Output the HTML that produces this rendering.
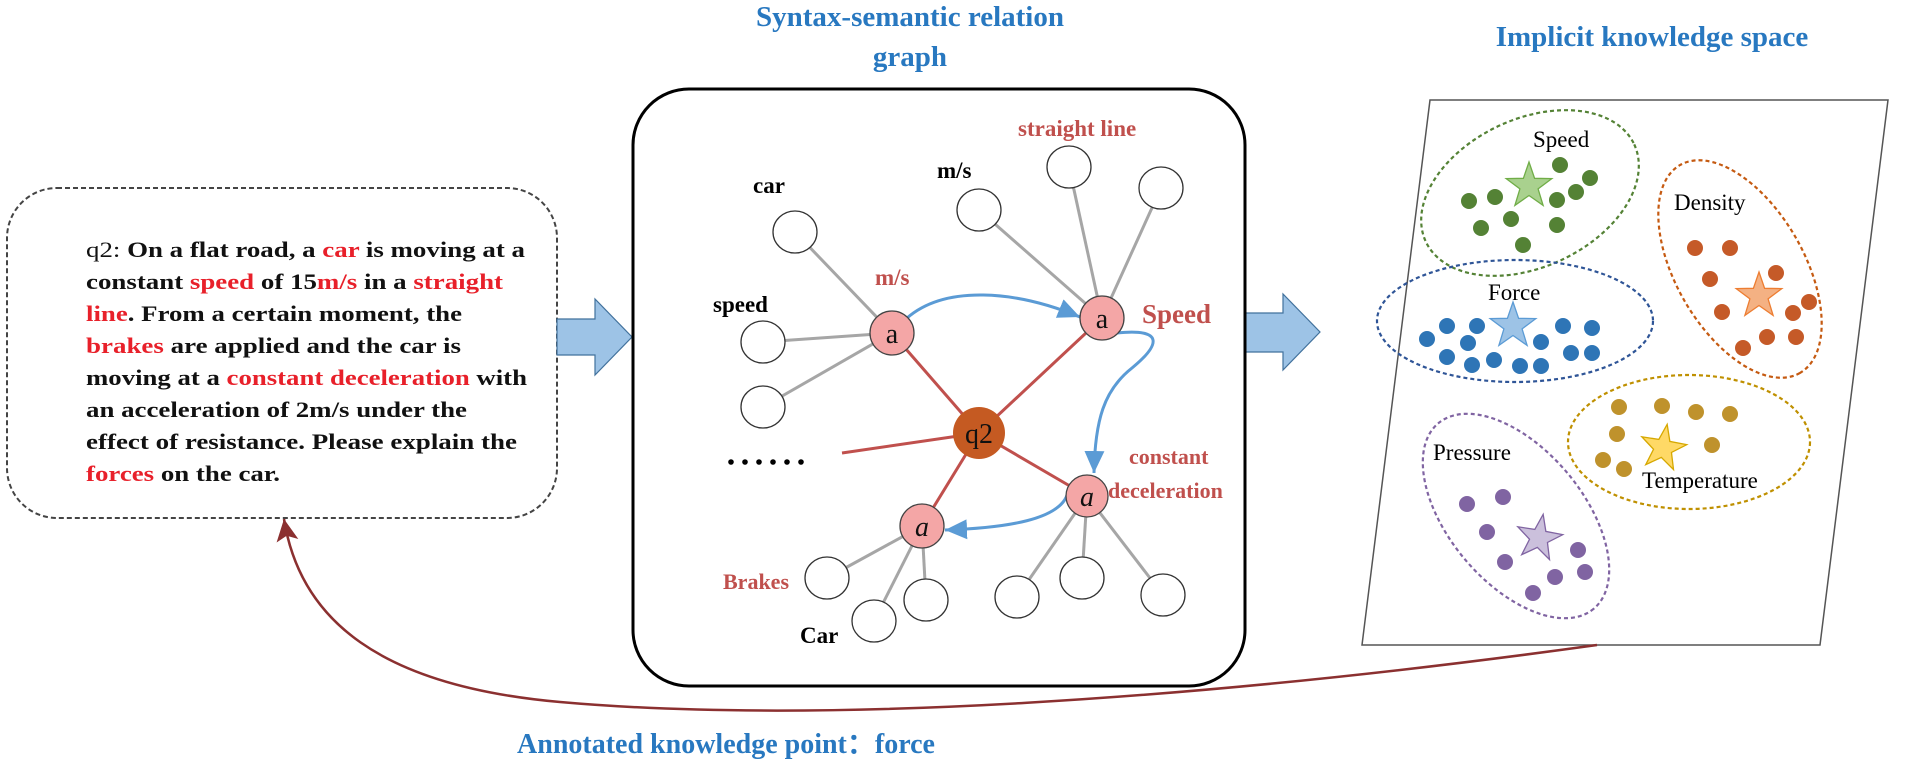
<!DOCTYPE html>
<html><head><meta charset="utf-8"><style>
html,body{margin:0;padding:0;background:#fff;}
svg{display:block;}
text{font-family:"Liberation Serif",serif;}
</style></head><body>
<svg width="1905" height="765" viewBox="0 0 1905 765" xmlns="http://www.w3.org/2000/svg">
<defs>
<marker id="bh" markerUnits="userSpaceOnUse" markerWidth="22" markerHeight="20" refX="22" refY="10" orient="auto"><path d="M0,0 L22,10 L0,20 z" fill="#5b9bd5"/></marker>
<marker id="rh" markerUnits="userSpaceOnUse" markerWidth="22" markerHeight="22" refX="22" refY="11" orient="auto"><path d="M0,0 L22,11 L0,22 L5,11 z" fill="#8b3030"/></marker>
</defs>

<!-- Titles -->
<g fill="#2878c0" font-weight="bold" font-size="29" text-anchor="middle">
<text x="910" y="26">Syntax-semantic relation</text>
<text x="910" y="66">graph</text>
<text x="1652" y="46">Implicit knowledge space</text>
<text x="726" y="753" font-size="28">Annotated knowledge point：force</text>
</g>

<!-- Left text box -->
<rect x="7" y="188" width="550" height="330" rx="50" fill="#fff" stroke="#444" stroke-width="2" stroke-dasharray="5,3"/>
<g font-size="22" font-weight="bold" fill="#111">
<text x="86" y="257" textLength="439" lengthAdjust="spacingAndGlyphs"><tspan font-weight="normal">q2: </tspan>On a flat road, a <tspan fill="#e8202a">car</tspan> is moving at a</text>
<text x="86" y="289" textLength="417" lengthAdjust="spacingAndGlyphs">constant <tspan fill="#e8202a">speed</tspan> of 15<tspan fill="#e8202a">m/s</tspan> in a <tspan fill="#e8202a">straight</tspan></text>
<text x="86" y="321" textLength="376" lengthAdjust="spacingAndGlyphs"><tspan fill="#e8202a">line</tspan>. From a certain moment, the</text>
<text x="86" y="353" textLength="375" lengthAdjust="spacingAndGlyphs"><tspan fill="#e8202a">brakes</tspan> are applied and the car is</text>
<text x="86" y="385" textLength="441" lengthAdjust="spacingAndGlyphs">moving at a <tspan fill="#e8202a">constant deceleration</tspan> with</text>
<text x="86" y="417" textLength="381" lengthAdjust="spacingAndGlyphs">an acceleration of 2m/s under the</text>
<text x="86" y="449" textLength="431" lengthAdjust="spacingAndGlyphs">effect of resistance. Please explain the</text>
<text x="86" y="481" textLength="194" lengthAdjust="spacingAndGlyphs"><tspan fill="#e8202a">forces</tspan> on the car.</text>
</g>

<!-- Block arrows -->
<polygon points="557,319 595,319 595,299 632,337 595,375 595,355 557,355" fill="#9dc3e6" stroke="#41719c" stroke-width="1.2"/>
<polygon points="1245,313 1283,313 1283,294 1320,332 1283,370 1283,352 1245,352" fill="#9dc3e6" stroke="#41719c" stroke-width="1.2"/>

<!-- Middle box -->
<rect x="633" y="89" width="612" height="597" rx="56" fill="#fff" stroke="#000" stroke-width="3"/>

<!-- grey edges -->
<g stroke="#a6a6a6" stroke-width="3">
<line x1="892" y1="333" x2="795" y2="232"/>
<line x1="892" y1="333" x2="763" y2="342"/>
<line x1="892" y1="333" x2="763" y2="407"/>
<line x1="1102" y1="318" x2="979" y2="210"/>
<line x1="1102" y1="318" x2="1069" y2="167"/>
<line x1="1102" y1="318" x2="1161" y2="188"/>
<line x1="922" y1="526" x2="827" y2="578"/>
<line x1="922" y1="526" x2="874" y2="621"/>
<line x1="922" y1="526" x2="926" y2="600"/>
<line x1="1087" y1="496" x2="1017" y2="597"/>
<line x1="1087" y1="496" x2="1082" y2="578"/>
<line x1="1087" y1="496" x2="1163" y2="595"/>
</g>
<!-- red edges -->
<g stroke="#c0504d" stroke-width="3">
<line x1="979" y1="433" x2="892" y2="333"/>
<line x1="979" y1="433" x2="1102" y2="318"/>
<line x1="979" y1="433" x2="922" y2="526"/>
<line x1="979" y1="433" x2="1087" y2="496"/>
<line x1="979" y1="433" x2="842" y2="453"/>
</g>
<!-- white nodes -->
<g fill="#fff" stroke="#333" stroke-width="1.3">
<ellipse cx="795" cy="232" rx="22" ry="21"/>
<ellipse cx="763" cy="342" rx="22" ry="21"/>
<ellipse cx="763" cy="407" rx="22" ry="21"/>
<ellipse cx="979" cy="210" rx="22" ry="21"/>
<ellipse cx="1069" cy="167" rx="22" ry="21"/>
<ellipse cx="1161" cy="188" rx="22" ry="21"/>
<ellipse cx="827" cy="578" rx="22" ry="21"/>
<ellipse cx="926" cy="600" rx="22" ry="21"/>
<ellipse cx="874" cy="621" rx="22" ry="21"/>
<ellipse cx="1017" cy="597" rx="22" ry="21"/>
<ellipse cx="1082" cy="578" rx="22" ry="21"/>
<ellipse cx="1163" cy="595" rx="22" ry="21"/>
</g>
<!-- dots -->
<g fill="#000"><circle cx="731" cy="462" r="2.8"/><circle cx="745" cy="462" r="2.8"/><circle cx="759" cy="462" r="2.8"/><circle cx="773" cy="462" r="2.8"/><circle cx="787" cy="462" r="2.8"/><circle cx="801" cy="462" r="2.8"/></g>
<!-- blue arrows -->
<g fill="none" stroke="#5b9bd5" stroke-width="3">
<path d="M907,318 C945,285 1015,290 1080,317" marker-end="url(#bh)"/>
<path d="M1117,333 C1165,328 1160,345 1132,368 C1104,390 1095,420 1094,473" marker-end="url(#bh)"/>
<path d="M1068,492 C1062,520 1005,528 945,530" marker-end="url(#bh)"/>
</g>
<!-- pink nodes -->
<g fill="#f4a6a6" stroke="#444" stroke-width="1.3">
<circle cx="892" cy="333" r="22"/>
<circle cx="1102" cy="318" r="22"/>
<circle cx="1087" cy="496" r="21"/>
<circle cx="922" cy="526" r="22"/>
</g>
<circle cx="979" cy="433" r="26" fill="#c55a22"/>
<g font-size="28" fill="#111" text-anchor="middle">
<text x="892" y="343">a</text>
<text x="1102" y="328">a</text>
<text x="1087" y="506" font-style="italic">a</text>
<text x="922" y="536" font-style="italic">a</text>
<text x="979" y="443">q2</text>
</g>
<!-- graph labels -->
<g font-weight="bold" font-size="23" fill="#000">
<text x="753" y="193">car</text>
<text x="937" y="178">m/s</text>
<text x="713" y="312">speed</text>
<text x="800" y="643">Car</text>
</g>
<g font-weight="bold" font-size="23" fill="#c0504d">
<text x="1018" y="136">straight line</text>
<text x="875" y="285">m/s</text>
<text x="1142" y="323" font-size="27">Speed</text>
<text x="1129" y="464" font-size="22">constant</text>
<text x="1108" y="498" font-size="22">deceleration</text>
<text x="723" y="589" font-size="22">Brakes</text>
</g>

<!-- Right panel -->
<polygon points="1430,100 1888,100 1820,645 1362,645" fill="#fff" stroke="#555" stroke-width="1.5"/>
<g fill="none" stroke-width="2.2" stroke-dasharray="4,3">
<ellipse cx="1530" cy="193" rx="115" ry="74" transform="rotate(-25 1530 193)" stroke="#548235"/>
<ellipse cx="1515" cy="321" rx="138" ry="61" stroke="#2f5597"/>
<ellipse cx="1740" cy="269" rx="120" ry="64" transform="rotate(60 1740 269)" stroke="#c55a11"/>
<ellipse cx="1689" cy="442" rx="121" ry="67" stroke="#bf9000"/>
<ellipse cx="1516" cy="516" rx="121" ry="67" transform="rotate(50 1516 516)" stroke="#8064a2"/>
</g>
<g fill="#548235">
<circle cx="1560" cy="165" r="8"/><circle cx="1590" cy="178" r="8"/><circle cx="1576" cy="192" r="8"/><circle cx="1557" cy="200" r="8"/><circle cx="1495" cy="197" r="8"/><circle cx="1469" cy="201" r="8"/><circle cx="1511" cy="219" r="8"/><circle cx="1481" cy="228" r="8"/><circle cx="1557" cy="225" r="8"/><circle cx="1523" cy="245" r="8"/>
</g>
<g fill="#2e75b6">
<circle cx="1427" cy="339" r="8"/><circle cx="1447" cy="326" r="8"/><circle cx="1477" cy="326" r="8"/><circle cx="1468" cy="343" r="8"/><circle cx="1447" cy="357" r="8"/><circle cx="1472" cy="365" r="8"/><circle cx="1494" cy="360" r="8"/><circle cx="1520" cy="366" r="8"/><circle cx="1541" cy="366" r="8"/><circle cx="1541" cy="342" r="8"/><circle cx="1563" cy="326" r="8"/><circle cx="1592" cy="328" r="8"/><circle cx="1571" cy="353" r="8"/><circle cx="1592" cy="353" r="8"/>
</g>
<g fill="#c55a28">
<circle cx="1695" cy="248" r="8"/><circle cx="1730" cy="248" r="8"/><circle cx="1710" cy="279" r="8"/><circle cx="1776" cy="273" r="8"/><circle cx="1722" cy="312" r="8"/><circle cx="1793" cy="313" r="8"/><circle cx="1809" cy="302" r="8"/><circle cx="1767" cy="337" r="8"/><circle cx="1796" cy="337" r="8"/><circle cx="1743" cy="348" r="8"/>
</g>
<g fill="#bf922c">
<circle cx="1619" cy="407" r="8"/><circle cx="1662" cy="406" r="8"/><circle cx="1696" cy="412" r="8"/><circle cx="1730" cy="414" r="8"/><circle cx="1617" cy="434" r="8"/><circle cx="1712" cy="445" r="8"/><circle cx="1603" cy="460" r="8"/><circle cx="1624" cy="469" r="8"/>
</g>
<g fill="#8064a2">
<circle cx="1467" cy="504" r="8"/><circle cx="1503" cy="497" r="8"/><circle cx="1487" cy="532" r="8"/><circle cx="1505" cy="562" r="8"/><circle cx="1578" cy="550" r="8"/><circle cx="1585" cy="572" r="8"/><circle cx="1555" cy="577" r="8"/><circle cx="1533" cy="593" r="8"/>
</g>
<!-- stars -->
<g stroke-width="1.3">
<polygon transform="translate(1529,186)" points="0,-24 5.6,-7.7 22.8,-7.4 9.1,2.9 14.1,19.4 0,9.5 -14.1,19.4 -9.1,2.9 -22.8,-7.4 -5.6,-7.7" fill="#a9d18e" stroke="#70ad47"/>
<polygon transform="translate(1513,326)" points="0,-24 5.6,-7.7 22.8,-7.4 9.1,2.9 14.1,19.4 0,9.5 -14.1,19.4 -9.1,2.9 -22.8,-7.4 -5.6,-7.7" fill="#9dc3e6" stroke="#5b9bd5"/>
<polygon transform="translate(1759,296)" points="0,-24 5.6,-7.7 22.8,-7.4 9.1,2.9 14.1,19.4 0,9.5 -14.1,19.4 -9.1,2.9 -22.8,-7.4 -5.6,-7.7" fill="#f4b183" stroke="#ed7d31"/>
<polygon transform="translate(1663,448) rotate(10)" points="0,-24 5.6,-7.7 22.8,-7.4 9.1,2.9 14.1,19.4 0,9.5 -14.1,19.4 -9.1,2.9 -22.8,-7.4 -5.6,-7.7" fill="#ffd966" stroke="#d6a800"/>
<polygon transform="translate(1539,538) rotate(10)" points="0,-24 5.6,-7.7 22.8,-7.4 9.1,2.9 14.1,19.4 0,9.5 -14.1,19.4 -9.1,2.9 -22.8,-7.4 -5.6,-7.7" fill="#cbc0dc" stroke="#8064a2"/>
</g>
<g font-size="23" fill="#000">
<text x="1533" y="147">Speed</text>
<text x="1488" y="300">Force</text>
<text x="1674" y="210">Density</text>
<text x="1433" y="460">Pressure</text>
<text x="1642" y="488">Temperature</text>
</g>

<!-- feedback curve -->
<path d="M1597,645 C1200,700 820,725 560,702 C380,686 300,620 284,519" fill="none" stroke="#8b3030" stroke-width="2.5" marker-end="url(#rh)"/>
</svg>
</body></html>
